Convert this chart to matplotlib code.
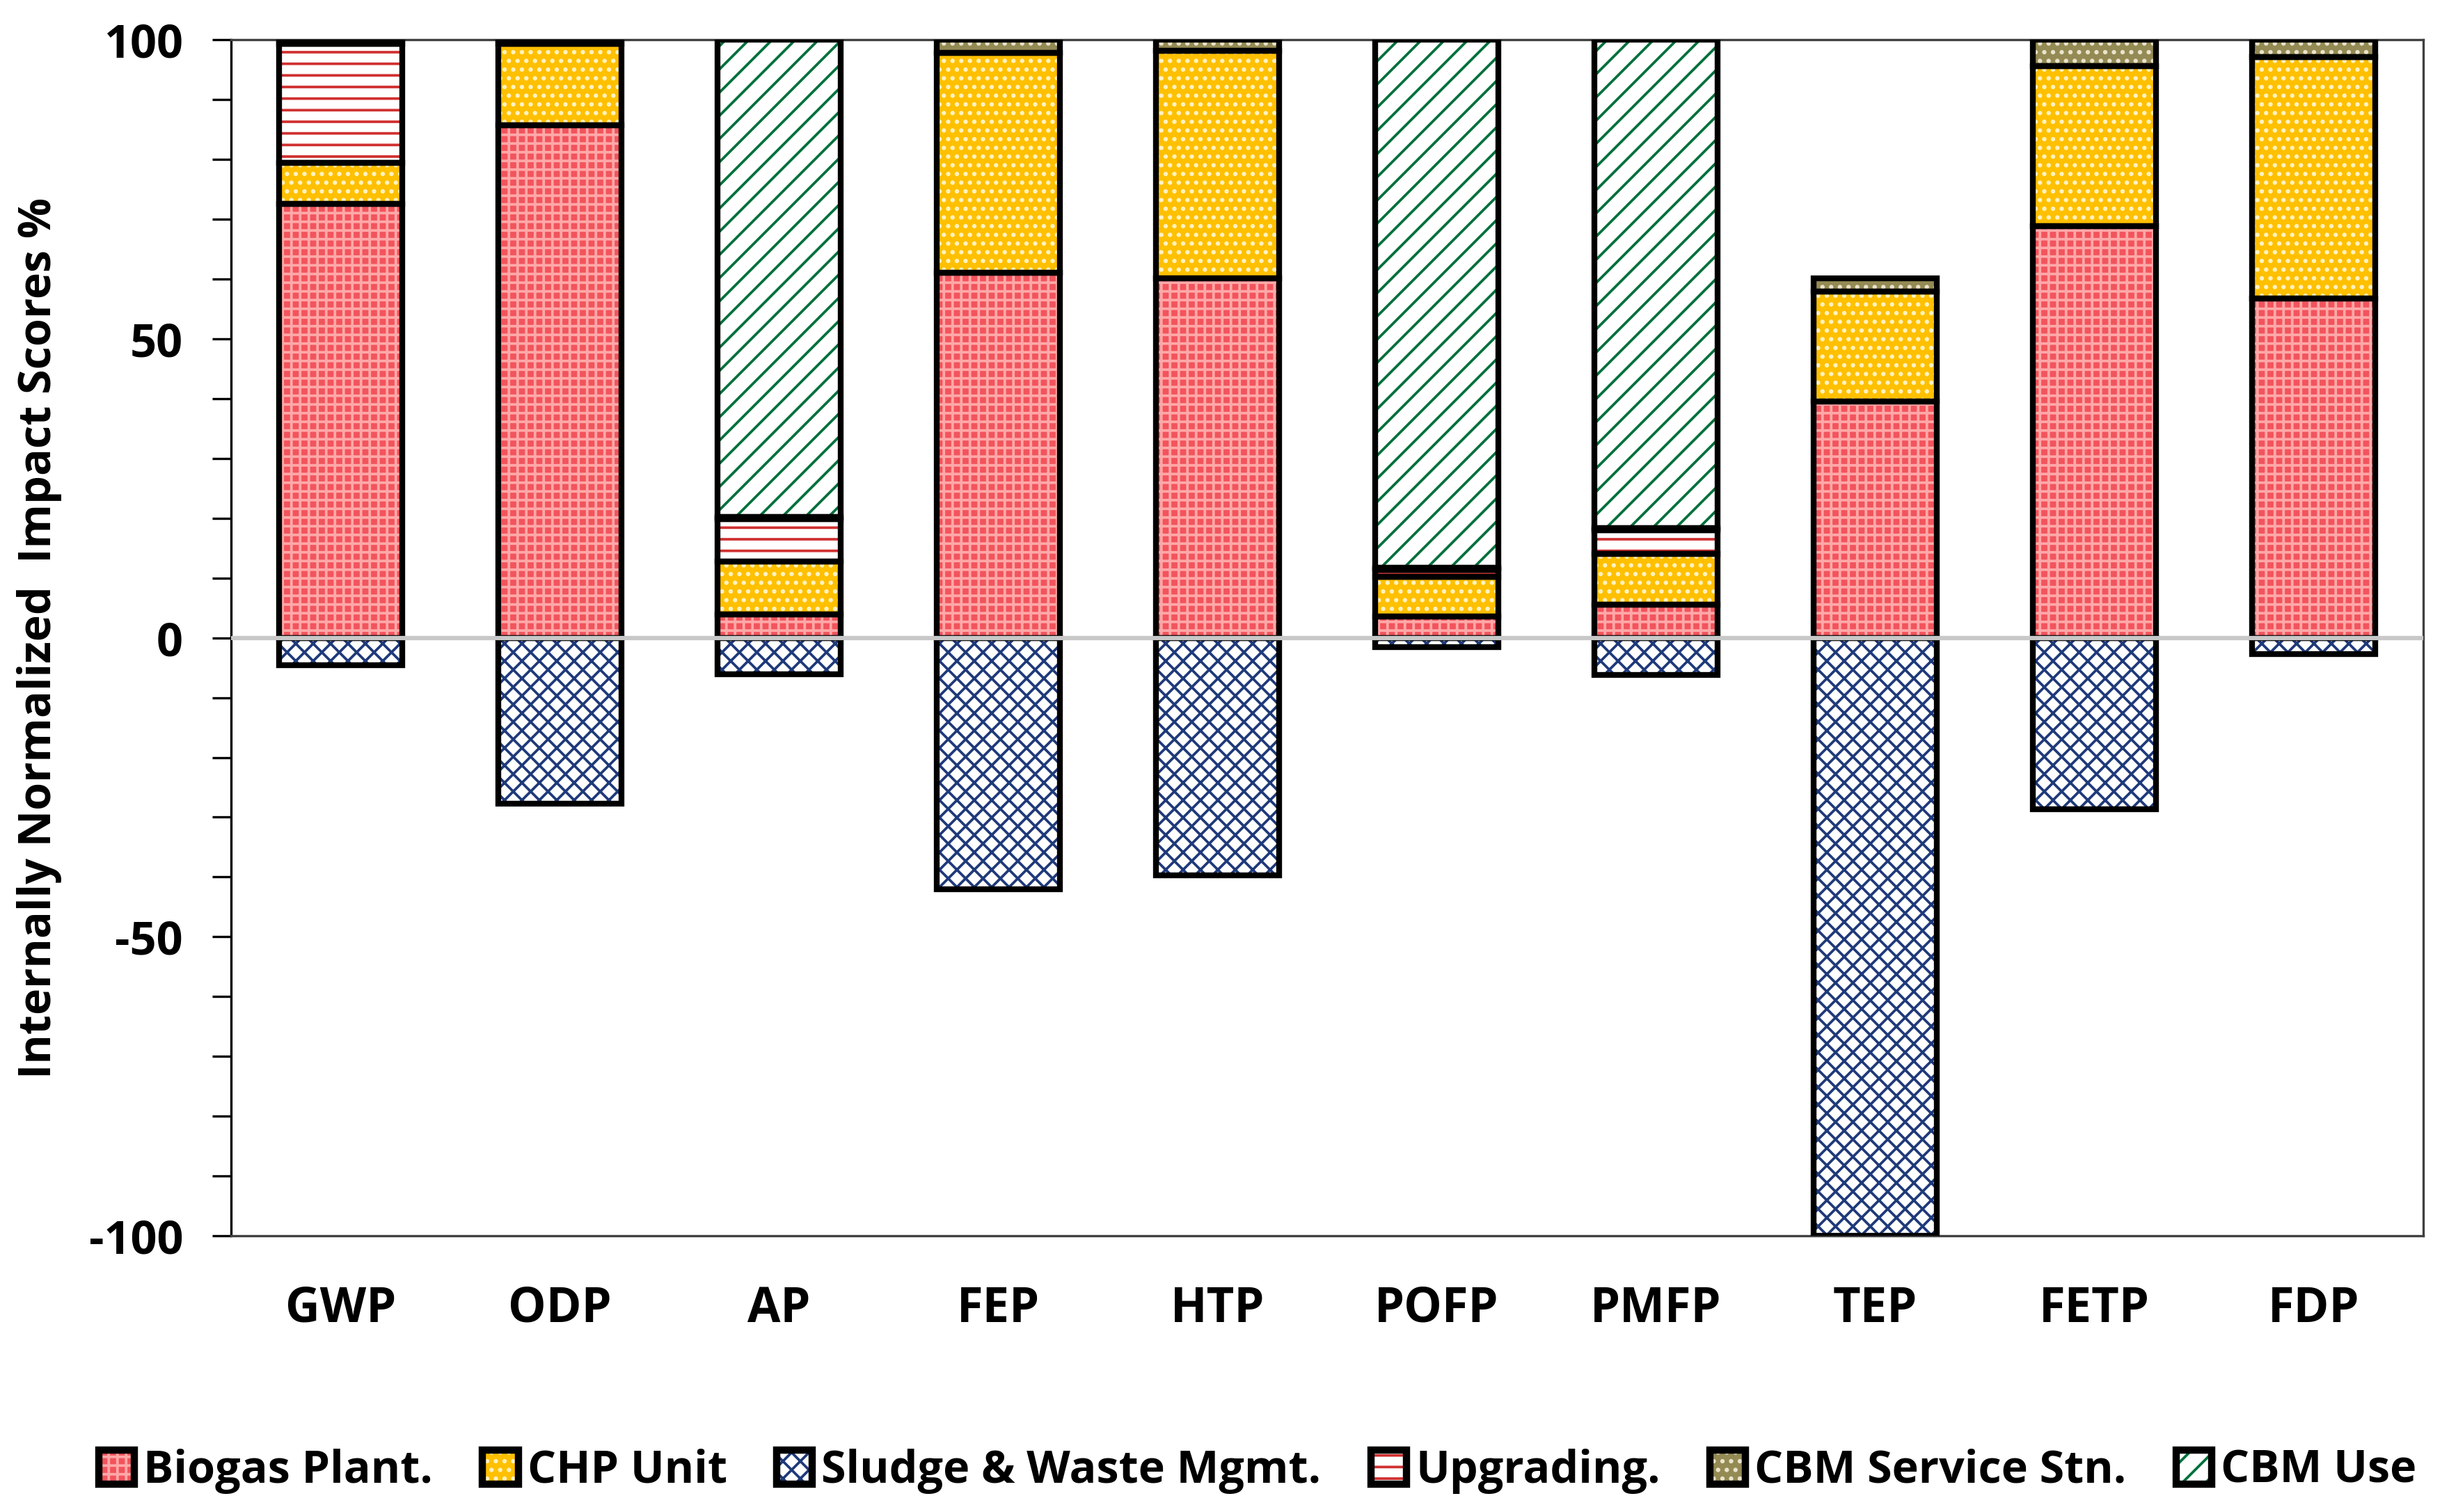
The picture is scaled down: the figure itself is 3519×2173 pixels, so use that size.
import matplotlib
matplotlib.use("Agg")
import matplotlib.pyplot as plt
import numpy as np
from matplotlib.patches import Patch
from matplotlib.legend_handler import HandlerTuple

plt.rcParams['font.family'] = ['Open Sans', 'DejaVu Sans']
plt.rcParams['font.weight'] = 'bold'
plt.rcParams['hatch.linewidth'] = 0.9
plt.rcParams['axes.unicode_minus'] = False

categories = ["GWP", "ODP", "AP", "FEP", "HTP", "POFP", "PMFP", "TEP", "FETP", "FDP"]
biogas = [72.6, 85.7, 3.9, 61.0, 60.1, 3.6, 5.5, 39.5, 68.9, 56.8]
chp = [6.8, 13.6, 8.9, 36.8, 38.1, 6.6, 8.5, 18.4, 26.7, 40.3]
sludge = [-4.6, -27.7, -6.1, -42.0, -39.7, -1.6, -6.2, -100.0, -28.7, -2.7]
upgrading = [19.9, 0.0, 7.1, 0.0, 0.0, 1.2, 4.0, 0.0, 0.0, 0.0]
service = [0.7, 0.7, 0.3, 2.2, 1.8, 0.3, 0.3, 2.2, 4.4, 2.9]
cbm_use = [0.0, 0.0, 79.8, 0.0, 0.0, 88.3, 81.7, 0.0, 0.0, 0.0]

labels = ["Biogas Plant.", "CHP Unit", "Sludge & Waste Mgmt.", "Upgrading.", "CBM Service Stn.", "CBM Use"]

styles = {
    "Biogas Plant.": dict(face="#F2545C", hcol="#FFA8A8", hatch="++++"),
    "CHP Unit": dict(face="#FFC000", hcol="#FFF2C0", hatch="...."),
    "Sludge & Waste Mgmt.": dict(face="#FFFFFF", hcol="#1F3A7A", hatch="xxxx"),
    "Upgrading.": dict(face="#FFFFFF", hcol="#D03030", hatch="---"),
    "CBM Service Stn.": dict(face="#948A54", hcol="#EAE4CC", hatch="...."),
    "CBM Use": dict(face="#FFFFFF", hcol="#00703C", hatch="///"),
}

fig = plt.figure(figsize=(3519/300, 2173/300), dpi=300)
ax = fig.add_axes([0.0943, 0.1827, 0.9895-0.0943, 0.9736-0.1827])

x = np.arange(len(categories))
w = 0.56
edge_lw = 2.0

def draw(vals, bottom, name):
    st = styles[name]
    vals = np.array(vals)
    mask = vals != 0
    ax.bar(x[mask], vals[mask], w, bottom=np.array(bottom)[mask], color=st["face"],
           edgecolor=st["hcol"], hatch=st["hatch"], linewidth=0, zorder=2)
    ax.bar(x[mask], vals[mask], w, bottom=np.array(bottom)[mask], fill=False,
           edgecolor="black", linewidth=edge_lw, zorder=3)

pos_series = [("Biogas Plant.", biogas), ("CHP Unit", chp), ("Upgrading.", upgrading),
              ("CBM Service Stn.", service), ("CBM Use", cbm_use)]
bottom = np.zeros(len(categories))
for name, vals in pos_series:
    draw(vals, bottom, name)
    bottom = bottom + np.array(vals)
draw(sludge, np.zeros(len(categories)), "Sludge & Waste Mgmt.")

ax.axhline(0, color="#C8C8C8", lw=1.5, zorder=5)

ax.set_xlim(-0.5, len(categories) - 0.5)
ax.set_ylim(-100, 100)
ax.set_yticks([-100, -50, 0, 50, 100])
ax.set_yticks(np.arange(-100, 101, 10), minor=True)
ax.tick_params(axis='y', which='both', direction='out', length=6.5, width=0.8, labelsize=16, pad=10)
ax.tick_params(axis='x', length=0, labelsize=16.5, pad=17)
ax.set_xticks(x)
ax.set_xticklabels(categories, fontweight='bold')
for t in ax.get_yticklabels():
    t.set_fontweight('bold')
for s in ["top", "right", "bottom"]:
    ax.spines[s].set_color("#404040")
    ax.spines[s].set_linewidth(0.8)
ax.spines["left"].set_linewidth(0.8)

fig.text(0.016, 0.578, "Internally Normalized  Impact Scores %", rotation=90,
         ha="center", va="center", fontsize=15.5, fontweight="bold")

handles = []
for name in labels:
    st = styles[name]
    p1 = Patch(facecolor=st["face"], edgecolor=st["hcol"], hatch=st["hatch"], linewidth=0)
    p2 = Patch(facecolor="none", edgecolor="black", linewidth=2.5)
    handles.append((p1, p2))
fig.legend(handles, labels, handler_map={tuple: HandlerTuple(ndivide=1)},
           loc="center", bbox_to_anchor=(0.5135, 0.027), ncol=6, frameon=False,
           fontsize=15.5, handlelength=0.8, handleheight=0.8, handletextpad=0.2,
           columnspacing=1.1, borderaxespad=0)

fig.savefig("out.png", dpi=300)
